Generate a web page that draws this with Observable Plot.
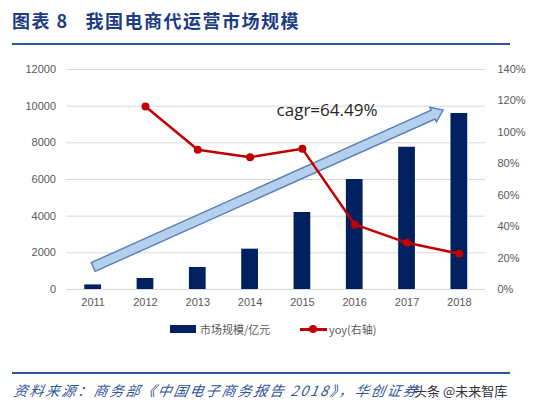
<!DOCTYPE html>
<html><head><meta charset="utf-8">
<script src="https://cdn.jsdelivr.net/npm/d3@7"></script>
<script src="https://cdn.jsdelivr.net/npm/@observablehq/plot@0.6"></script>
<style>
body{margin:0;background:#fff;}
#wrap{position:relative;width:549px;height:412px;overflow:hidden;font-family:"Liberation Sans",Arial,sans-serif;}
#title{position:absolute;left:12px;top:7px;font-family:"Noto Sans CJK SC";font-weight:bold;font-size:18px;color:#1c3c86;letter-spacing:1.5px;white-space:nowrap;}
#tline{position:absolute;left:12px;top:43px;width:498px;height:2px;background:#2f5597;}
#chart{position:absolute;left:0;top:50px;}
#legend{position:absolute;top:321px;left:0;width:549px;font-size:11px;color:#595959;font-family:"Noto Sans CJK SC";}
#fline{position:absolute;left:12px;top:372px;width:498px;height:1.5px;background:#2f5597;}
#foot{position:absolute;left:14px;top:380px;font-family:"Noto Sans CJK SC";font-style:italic;font-size:14px;letter-spacing:2px;color:#2f5597;white-space:nowrap;transform:skewX(-10deg);}
#wm{position:absolute;left:414px;top:381px;font-family:"Noto Sans CJK SC";font-size:13px;color:#333;white-space:nowrap;}
</style></head>
<body><div id="wrap">
<div id="title">图表 8&nbsp;&nbsp;&nbsp;我国电商代运营市场规模</div>
<div id="tline"></div>
<div id="chart"></div>
<div id="legend"></div>
<div id="fline"></div>
<div id="foot">资料来源：商务部《中国电子商务报告 2018》，华创证券</div>
<div id="wm">头条 @未来智库</div>
</div>
<script>
const years = [2011, 2012, 2013, 2014, 2015, 2016, 2017, 2018];
const marketSize = [250, 600, 1200, 2200, 4200, 6000, 7760, 9600];
const yoyYears = [2012, 2013, 2014, 2015, 2016, 2017, 2018];
const yoy = [116.5, 88.9, 84.2, 89.5, 41.4, 29.7, 22.7];
const leftTicks = [0, 2000, 4000, 6000, 8000, 10000, 12000];
const rightTicks = [0, 20, 40, 60, 80, 100, 120, 140];
const cagrLabel = "cagr=64.49%";
const legendLabels = ["市场规模/亿元", "yoy(右轴)"];

const leftMax = 12000, rightMax = 140;
const toLeft = p => p * leftMax / rightMax;
const bars = years.map((y, i) => ({year: y, value: marketSize[i]}));
const line = yoyYears.map((y, i) => ({year: y, v: toLeft(yoy[i])}));
const arrowData = [{x1: 2011.01, y1: 1200, x2: 2017.70, y2: 9760}];

// block arrow drawn from data endpoints through the plot's scales
function blockArrow(data) {
  return (index, scales) => {
    const g = d3.create("svg:g");
    for (const d of data) {
      const ax = scales.x(d.x1), ay = scales.y(d.y1), bx = scales.x(d.x2), by = scales.y(d.y2);
      const len = Math.hypot(bx - ax, by - ay), ux = (bx - ax) / len, uy = (by - ay) / len;
      const nx = -uy, ny = ux, w = 4.8, h = 8, L = 11;
      const cx = bx - ux * L, cy = by - uy * L;
      const pts = [[ax + nx * w, ay + ny * w], [cx + nx * w, cy + ny * w], [cx + nx * h, cy + ny * h], [bx, by],
                   [cx - nx * h, cy - ny * h], [cx - nx * w, cy - ny * w], [ax - nx * w, ay - ny * w]];
      g.append("path").attr("d", "M" + pts.map(p => p.join(",")).join("L") + "Z")
        .attr("fill", "#b4d0ec").attr("stroke", "#5b84ba").attr("stroke-width", 1.5).attr("stroke-linejoin", "miter");
    }
    return g.node();
  };
}

const chart = Plot.plot({
  width: 549, height: 265,
  marginLeft: 66.5, marginRight: 64, marginTop: 19, marginBottom: 26,
  style: {fontFamily: "Liberation Sans, Arial, sans-serif", fontSize: "11px", color: "#595959"},
  x: {type: "linear", domain: [2010.5, 2018.5]},
  y: {domain: [0, leftMax]},
  marks: [
    Plot.gridY(leftTicks, {stroke: "#d9d9d9", strokeOpacity: 1}),
    Plot.rectY(bars, {x1: d => d.year - 0.16, x2: d => d.year + 0.16, y: "value", fill: "#002060"}),
    blockArrow(arrowData),
    Plot.line(line, {x: "year", y: "v", stroke: "#c00000", strokeWidth: 2.5}),
    Plot.dot(line, {x: "year", y: "v", fill: "#c00000", r: 4}),
    Plot.text([cagrLabel], {x: 2015.47, y: 9760, text: d => d, fontSize: 17, fill: "#262626", fontFamily: "Open Sans, sans-serif"}),
    Plot.axisY(leftTicks, {anchor: "left", tickSize: 0, tickPadding: 11, tickFormat: d => String(d), fill: "#595959"}),
    Plot.axisY(rightTicks.map(toLeft), {anchor: "right", tickSize: 0, tickPadding: 12, tickFormat: d => Math.round(d * rightMax / leftMax) + "%", fill: "#595959"}),
    Plot.axisX(years, {tickSize: 0, tickPadding: 9, tickFormat: d => String(d), fill: "#595959"})
  ]
});
chart.querySelectorAll("[aria-label='y-axis label'],[aria-label='x-axis label']").forEach(e => e.remove());
document.getElementById("chart").appendChild(chart);

const lg = document.getElementById("legend");
lg.innerHTML = `
<span style="position:absolute;left:170px;top:4px;width:26px;height:8px;background:#002060"></span>
<span style="position:absolute;left:200px;top:0px;">${legendLabels[0]}</span>
<span style="position:absolute;left:300px;top:7px;width:27px;height:2.5px;background:#c00000"></span>
<span style="position:absolute;left:309px;top:4px;width:8px;height:8px;border-radius:50%;background:#c00000"></span>
<span style="position:absolute;left:329px;top:0px;">${legendLabels[1]}</span>`;
</script>
</body></html>
